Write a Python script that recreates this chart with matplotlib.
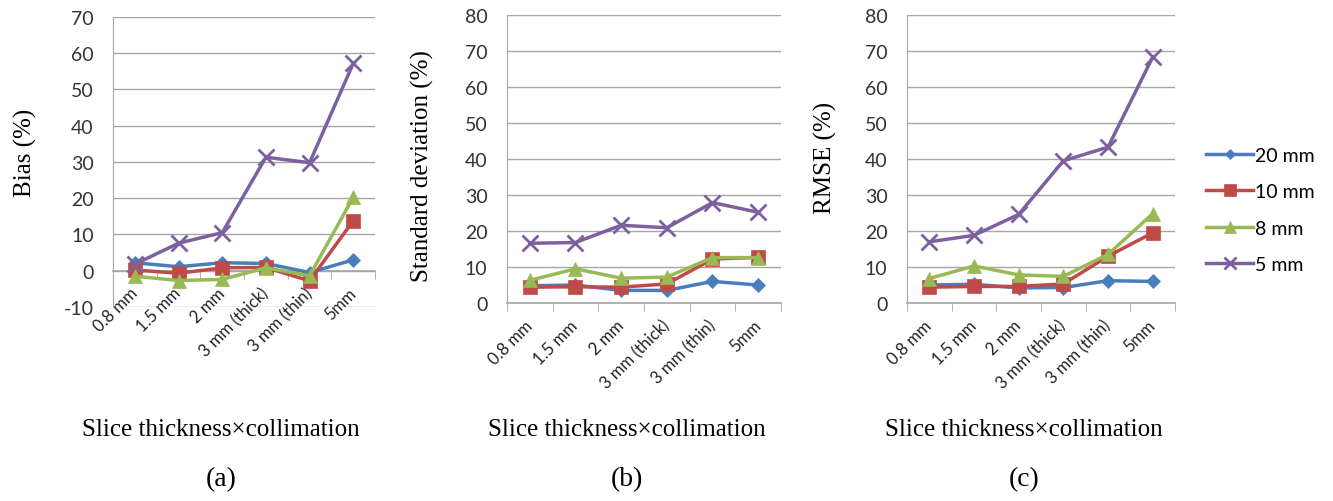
import matplotlib
matplotlib.use("Agg")
import matplotlib.pyplot as plt

plt.rcParams["axes.unicode_minus"] = False
plt.rcParams["font.family"] = ["Lato", "DejaVu Sans"]

# categories along the x axis
slices = ["0.8 mm", "1.5 mm", "2 mm", "3 mm (thick)", "3 mm (thin)", "5mm"]
series_names = ["20 mm", "10 mm", "8 mm", "5 mm"]

# (a) bias (%)
bias_20 = [2.2, 1.1, 2.2, 2.0, -0.5, 3.0]
bias_10 = [0.2, -0.7, 0.8, 0.9, -2.8, 13.8]
bias_8 = [-1.5, -2.7, -2.4, 0.8, -1.4, 20.3]
bias_5 = [1.8, 7.6, 10.5, 31.3, 29.8, 57.2]

# (b) standard deviation (%)
sd_20 = [4.8, 5.0, 3.5, 3.5, 6.0, 5.0]
sd_10 = [4.4, 4.5, 4.4, 5.3, 12.2, 12.7]
sd_8 = [6.3, 9.5, 6.9, 7.2, 12.6, 12.6]
sd_5 = [16.6, 16.8, 21.6, 20.9, 27.9, 25.2]

# (c) RMSE (%)
rmse_20 = [5.0, 5.2, 4.2, 4.3, 6.2, 6.0]
rmse_10 = [4.4, 4.6, 4.6, 5.3, 13.0, 19.5]
rmse_8 = [6.8, 10.3, 7.8, 7.4, 13.5, 24.8]
rmse_5 = [17.0, 18.8, 24.6, 39.5, 43.3, 68.3]

colors = ["#4a7ebb", "#be4b48", "#98b954", "#7d60a0"]
markers = ["D", "s", "^", "x"]
msizes = [7, 10, 10, 11]

fig = plt.figure(figsize=(13.33, 5.02), dpi=100)

panels = [
    ([0.0848, 0.3865, 0.1966, 0.5777], [bias_20, bias_10, bias_8, bias_5], (-10, 70), "Bias (%)", 0.019, 0.695, "(a)", 0.166),
    ([0.3803, 0.3944, 0.2056, 0.5737], [sd_20, sd_10, sd_8, sd_5], (0, 80), "Standard deviation (%)", 0.317, 0.67, "(b)", 0.470),
    ([0.6804, 0.3944, 0.2011, 0.5737], [rmse_20, rmse_10, rmse_8, rmse_5], (0, 80), "RMSE (%)", 0.619, 0.685, "(c)", 0.768),
]

x = list(range(len(slices)))
for rect, data, ylim, ylab, ylx, yly, tag, tagx in panels:
    ax = fig.add_axes(rect)
    for vals, c, m, ms, name in zip(data, colors, markers, msizes, series_names):
        ax.plot(x, vals, color=c, marker=m, markersize=ms, lw=2.5, label=name,
                markeredgewidth=2 if m == "x" else 0.5, markeredgecolor=c, zorder=3)
    ax.set_xlim(-0.5, len(slices) - 0.5)
    ax.set_ylim(*ylim)
    ax.set_yticks(range(ylim[0], ylim[1] + 1, 10))
    ax.grid(axis="y", color="#a6a6a6", lw=1)
    ax.set_axisbelow(True)
    for s in ["top", "right"]:
        ax.spines[s].set_visible(False)
    ax.spines["left"].set_color("#a6a6a6")
    ax.spines["bottom"].set_color("#a6a6a6")
    ax.spines["bottom"].set_position(("data", 0))
    ax.spines["bottom"].set_linewidth(1.2)
    ax.set_xticks(x)
    ax.set_xticklabels(slices, rotation=45, ha="right", va="center",
                       rotation_mode="anchor", fontsize=12, color="#222222")
    ax.set_xticks([i + 0.5 for i in range(-1, len(slices))], minor=True)
    ax.tick_params(axis="x", which="major", length=0, pad=14)
    ax.tick_params(axis="x", which="minor", length=6, color="#a6a6a6", direction="out")
    ax.tick_params(axis="y", length=0, pad=14, labelsize=14, labelcolor="#333333")
    fig.text(ylx, yly, ylab, rotation=90, ha="center", va="center",
             family="Liberation Serif", fontsize=18)
    fig.text(tagx, 0.143, "Slice thickness×collimation", ha="center", va="center",
             family="Liberation Serif", fontsize=18)
    fig.text(tagx, 0.045, tag, ha="center", va="center",
             family="Liberation Serif", fontsize=20)
    last_ax = ax

handles, labels = last_ax.get_legend_handles_labels()
fig.legend(handles, labels, loc="center left", bbox_to_anchor=(0.905, 0.58),
           frameon=False, fontsize=14, handlelength=2.4, labelspacing=1.0,
           handletextpad=0.1, markerscale=0.8, borderaxespad=0, borderpad=0)

fig.savefig("out.png", dpi=100)
